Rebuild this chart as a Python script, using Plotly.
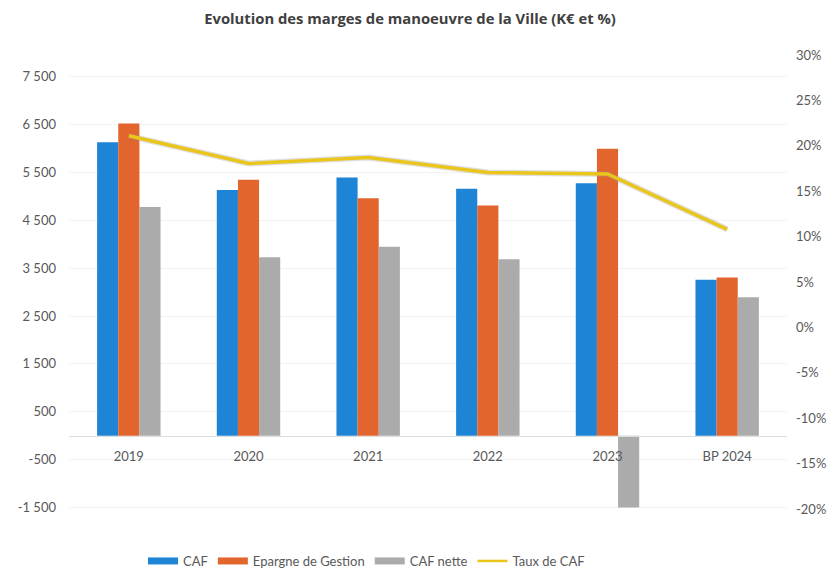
import plotly.graph_objects as go

categories = ["2019", "2020", "2021", "2022", "2023", "BP 2024"]
caf = [6130, 5135, 5395, 5160, 5275, 3255]
epargne_gestion = [6520, 5345, 4960, 4810, 5995, 3305]
caf_nette = [4780, 3730, 3945, 3685, -1500, 2890]
taux_caf = [21.1, 18.05, 18.7, 17.06, 16.9, 10.8]

left_tickvals = [-1500, -500, 500, 1500, 2500, 3500, 4500, 5500, 6500, 7500]
left_ticktext = ["-1 500", "-500", "500", "1 500", "2 500", "3 500", "4 500", "5 500", "6 500", "7 500"]
right_tickvals = [-20, -15, -10, -5, 0, 5, 10, 15, 20, 25, 30]
right_ticktext = ["-20%", "-15%", "-10%", "-5%", "0%", "5%", "10%", "15%", "20%", "25%", "30%"]

LEFT_RANGE = [-1533, 7954]
RIGHT_RANGE = [-20, 30]
FONT = "Lato, 'Open Sans', sans-serif"
TXT = "#595959"
C_CAF = "#1E84D6"
C_EPG = "#E3652E"
C_NET = "#ABABAB"
C_TAUX = "#EAC51C"

fig = go.Figure()
fig.add_trace(go.Bar(name="CAF", x=categories, y=caf, marker_color=C_CAF,
                     marker_line_width=0, showlegend=False, legendgroup="caf"))
fig.add_trace(go.Bar(name="Epargne de Gestion", x=categories, y=epargne_gestion,
                     marker_color=C_EPG, marker_line_width=0, showlegend=False,
                     legendgroup="epg"))
fig.add_trace(go.Bar(name="CAF nette", x=categories, y=caf_nette,
                     marker_color=C_NET, marker_line_width=0, showlegend=False,
                     legendgroup="net"))
fig.add_trace(go.Scatter(name="shadow", x=categories, y=taux_caf, yaxis="y2",
                         mode="lines", line=dict(color="rgba(150,150,150,0.3)", width=6),
                         showlegend=False, hoverinfo="skip"))
fig.add_trace(go.Scatter(name="Taux de CAF", x=categories, y=taux_caf, yaxis="y2",
                         mode="lines", line=dict(color=C_TAUX, width=3.5),
                         showlegend=False, legendgroup="taux"))

# legend-only entries (wide swatches like the reference)
for nm, col, w, grp in [("CAF", C_CAF, 7, "caf"), ("Epargne de Gestion", C_EPG, 7, "epg"),
                        ("CAF nette", C_NET, 7, "net"), ("Taux de CAF", C_TAUX, 2.5, "taux")]:
    fig.add_trace(go.Scatter(name=nm, x=[None], y=[None], mode="lines",
                             line=dict(color=col, width=w), legendgroup=grp,
                             showlegend=True))

zero_pos = (0 - LEFT_RANGE[0]) / (LEFT_RANGE[1] - LEFT_RANGE[0])

W, H = 829, 560  # page body has an 8px margin
fig.update_layout(
    width=W, height=H,
    paper_bgcolor="white", plot_bgcolor="white",
    margin=dict(l=61, r=50, t=47, b=59, autoexpand=False),
    barmode="group", bargap=0.47, bargroupgap=0,
    font=dict(family=FONT, color=TXT, size=13),
    title=dict(text="<b>Evolution des marges de manoeuvre de la Ville (K€ et %)</b>",
               x=(410 - 8) / W, xanchor="center", y=1 - 11 / H, yanchor="middle",
               font=dict(family="'Open Sans', sans-serif", size=14.8, color="#404040")),
    xaxis=dict(type="category", anchor="free", position=zero_pos,
               showline=True, linecolor="#DDDDDD", linewidth=1,
               ticks="", ticklabelstandoff=9, showgrid=False,
               tickfont=dict(size=13, color=TXT)),
    yaxis=dict(range=LEFT_RANGE, tickvals=left_tickvals, ticktext=left_ticktext,
               showgrid=True, gridcolor="#F2F2F2", zeroline=False, showline=False,
               ticklabelstandoff=12, tickfont=dict(size=13, color=TXT)),
    yaxis2=dict(range=RIGHT_RANGE, tickvals=right_tickvals, ticktext=right_ticktext,
                overlaying="y", side="right", showgrid=False, zeroline=False,
                showline=False, ticklabelstandoff=8, tickfont=dict(size=13, color=TXT)),
    legend=dict(orientation="h", x=(135 - 61) / 718, xanchor="left",
                y=(501 - 553) / 454, yanchor="middle",
                font=dict(size=13, color=TXT), itemwidth=30,
                traceorder="normal"),
)

fig.write_html("out.html")
